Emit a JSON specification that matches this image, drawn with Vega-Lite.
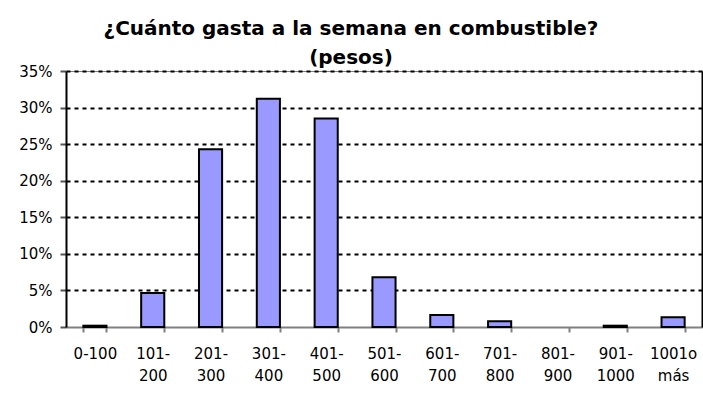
{
  "$schema": "https://vega.github.io/schema/vega-lite/v6.json",
  "width": 636,
  "height": 256,
  "autosize": "none",
  "padding": {"left": 66, "top": 71, "right": 1, "bottom": 84},
  "background": "white",
  "title": {
    "text": ["¿Cuánto gasta a la semana en combustible?", "(pesos)"],
    "font": "DejaVu Sans",
    "fontSize": 20,
    "fontWeight": "bold",
    "lineHeight": 29,
    "color": "black",
    "anchor": "middle",
    "frame": "group",
    "dx": -33,
    "dy": 4,
    "offset": 0
  },
  "data": {
    "values": [
      {"rango": "0-100", "pct": 0.0018},
      {"rango": "101-200", "pct": 0.0465},
      {"rango": "201-300", "pct": 0.243},
      {"rango": "301-400", "pct": 0.312},
      {"rango": "401-500", "pct": 0.285},
      {"rango": "501-600", "pct": 0.068},
      {"rango": "601-700", "pct": 0.0165},
      {"rango": "701-800", "pct": 0.008},
      {"rango": "801-900", "pct": 0},
      {"rango": "901-1000", "pct": 0.0018},
      {"rango": "1001o más", "pct": 0.0135}
    ]
  },
  "encoding": {
    "x": {
      "field": "rango",
      "type": "nominal",
      "sort": null,
      "scale": {"paddingInner": 0.6, "paddingOuter": 0.3},
      "axis": {
        "title": null,
        "labelAngle": 0,
        "labelFont": "DejaVu Sans",
        "labelFontSize": 15,
        "labelColor": "black",
        "labelLineHeight": 22,
        "labelPadding": 14,
        "labelExpr": "datum.label == '0-100' ? datum.label : datum.label == '1001o más' ? ['1001o', 'más'] : split(replace(datum.label, '-', '-|'), '|')",
        "tickBand": "extent",
        "tickSize": 5,
        "tickColor": "#808080",
        "tickWidth": 2,
        "domainColor": "#808080",
        "domainWidth": 2
      }
    }
  },
  "layer": [
    {
      "mark": {"type": "bar", "fill": "#9999ff", "stroke": "black", "strokeWidth": 2},
      "encoding": {
        "y": {
          "field": "pct",
          "type": "quantitative",
          "scale": {"domain": [0, 0.35], "nice": false},
          "axis": {
            "title": null,
            "orient": "left",
            "values": [0, 0.05, 0.1, 0.15, 0.2, 0.25, 0.3, 0.35],
            "format": ".0%",
            "labelFont": "DejaVu Sans",
            "labelFontSize": 15,
            "labelColor": "black",
            "labelPadding": 8,
            "tickSize": 6,
            "tickColor": "#555555",
            "tickWidth": 2,
            "domainColor": "black",
            "domainWidth": 2,
            "grid": true,
            "gridColor": "black",
            "gridWidth": 2,
            "gridDash": [4, 4],
            "gridOpacity": {"condition": {"test": "datum.value === 0", "value": 0}, "value": 1}
          }
        },
        "strokeOpacity": {
          "condition": {"test": "datum.pct > 0", "value": 1},
          "value": 0
        }
      }
    },
    {
      "mark": {"type": "bar", "opacity": 0},
      "encoding": {
        "y": {
          "field": "pct",
          "type": "quantitative",
          "axis": {
            "orient": "right",
            "title": null,
            "labels": false,
            "ticks": false,
            "grid": false,
            "domainColor": "black",
            "domainWidth": 2
          }
        }
      }
    }
  ],
  "resolve": {"axis": {"y": "independent"}},
  "config": {
    "view": {"stroke": "#808080", "strokeWidth": 1}
  }
}
